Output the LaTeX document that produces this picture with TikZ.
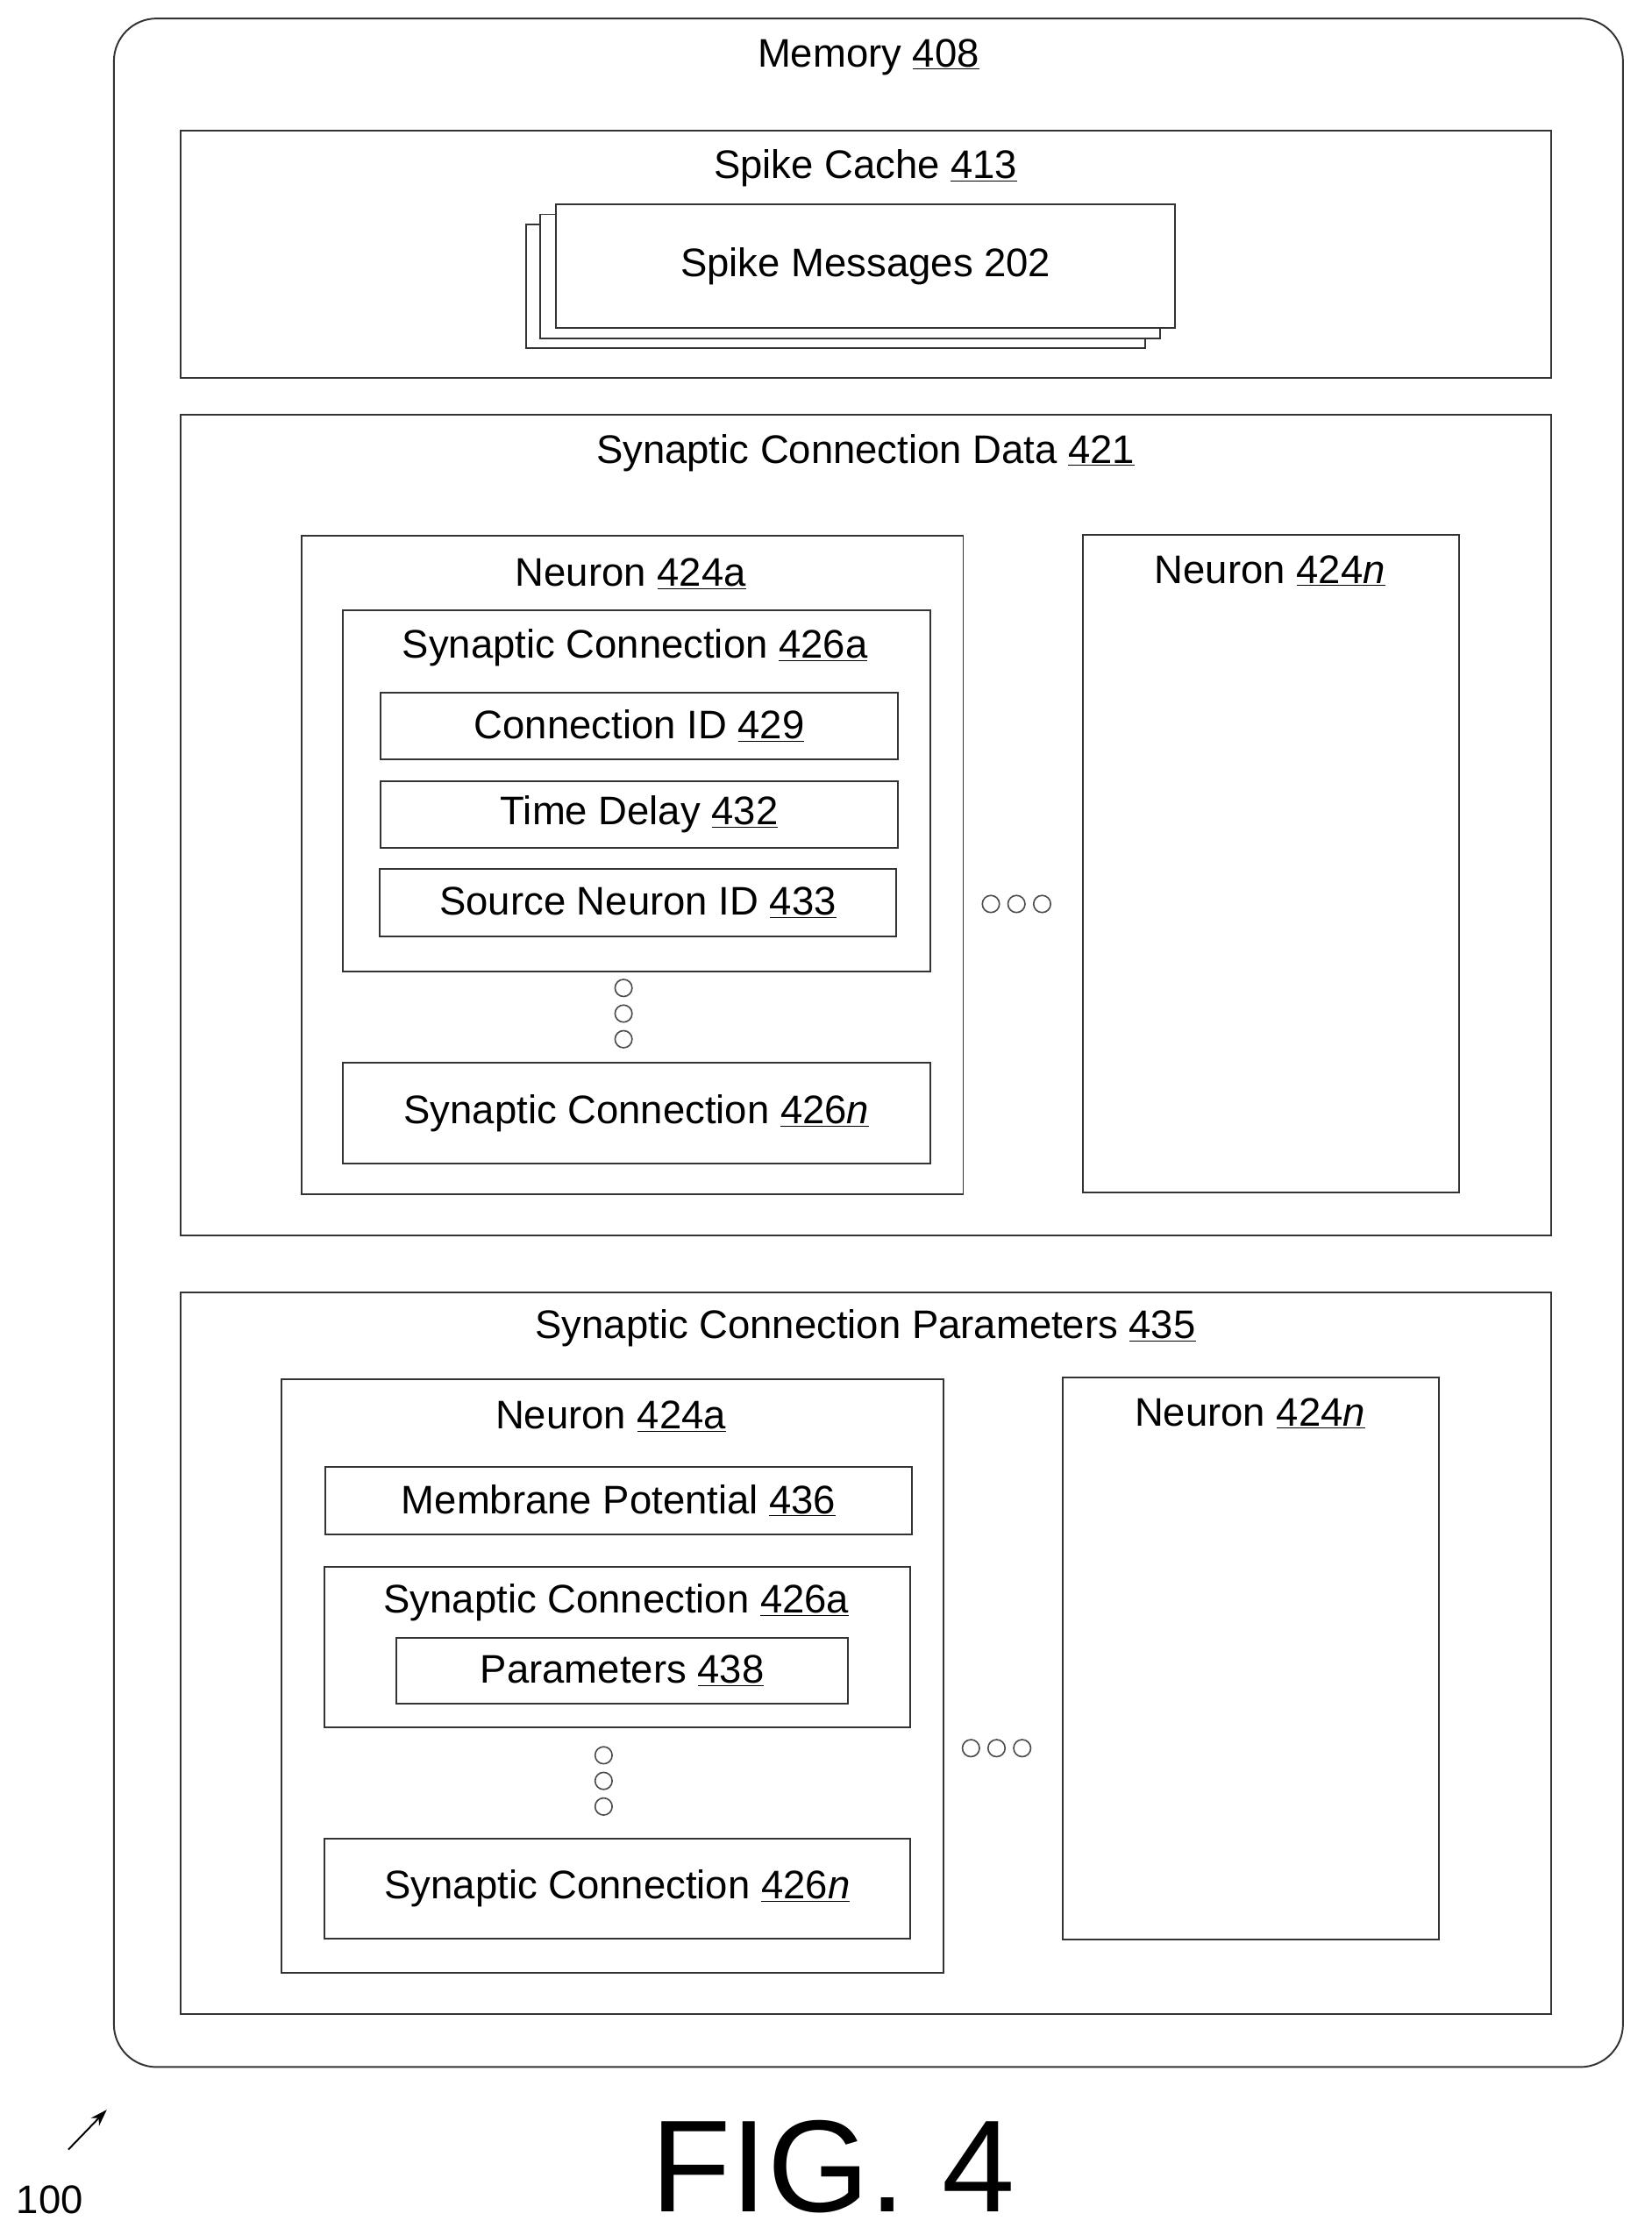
\documentclass[tikz,border=0pt]{standalone}
\usepackage{fontspec}
\setmainfont{Liberation Sans}
\usetikzlibrary{positioning,arrows.meta}
\tikzset{
  box/.style={draw=black!80, line width=1.2pt, rectangle, anchor=north west, inner sep=0pt, fill=white},
  txt/.style={font=\fontsize{28}{32}\selectfont, inner sep=0pt},
  dot/.style={draw=black!70, line width=1pt, circle, minimum size=12pt, inner sep=0pt},
}
\newcommand{\ul}[1]{\underline{#1}}
\begin{document}
\begin{tikzpicture}[x=1pt,y=-1pt]
  \useasboundingbox (0,0) rectangle (1160,1570);
  % memory
  \draw[black!80, line width=1.2pt, rounded corners=30pt] (80,13) rectangle (1140,1452);
  \node[txt] (mem) at (610,40) {Memory \ul{408}};
  % spike cache
  \node[box, minimum width=963pt, minimum height=174pt] (cache) at (126,91) {};
  \node[txt] (cachet) at (608,118) {Spike Cache \ul{413}};
  \node[box, minimum width=435pt, minimum height=87pt] (msg3) at (369,157) {};
  \node[box, minimum width=435pt, minimum height=87pt] (msg2) at (379,150) {};
  \node[box, minimum width=435pt, minimum height=87pt] (msg1) at (390,143) {};
  \node[txt] at (msg1.center) {Spike Messages 202};
  % synaptic connection data
  \node[box, minimum width=963pt, minimum height=576pt] (scd) at (126,291) {};
  \node[txt] (scdt) at (608,318) {Synaptic Connection Data \ul{421}};
  \node[box, minimum width=465pt, minimum height=462pt] (na) at (211,376) {};
  \node[txt] at (443,403) {Neuron \ul{424a}};
  \node[box, minimum width=413pt, minimum height=254pt] (sca) at (240,428) {};
  \node[txt] at (446,455) {Synaptic Connection \ul{426a}};
  \node[box, minimum width=363pt, minimum height=47pt] (cid) at (267,486) {};
  \node[txt] at (cid.center) {Connection ID \ul{429}};
  \node[box, minimum width=363pt, minimum height=47pt] (td) at (267,548) {};
  \node[txt] at (td.center) {Time Delay \ul{432}};
  \node[box, minimum width=363pt, minimum height=47pt] (sid) at (266,610) {};
  \node[txt] at (sid.center) {Source Neuron ID \ul{433}};
  \foreach \y in {694,712,730} \node[dot] at (438,\y) {};
  \node[box, minimum width=413pt, minimum height=71pt] (scn) at (240,746) {};
  \node[txt] at (scn.center) {Synaptic Connection \ul{426\textit{n}}};
  \foreach \x in {696,714,732} \node[dot] at (\x,635) {};
  \node[box, minimum width=264pt, minimum height=462pt] (nn) at (760,375) {};
  \node[txt] at (892,401) {Neuron \ul{424\textit{n}}};
  % synaptic connection parameters
  \node[box, minimum width=963pt, minimum height=507pt] (scp) at (126,907) {};
  \node[txt] (scpt) at (608,933) {Synaptic Connection Parameters \ul{435}};
  \node[box, minimum width=465pt, minimum height=417pt] (pa) at (197,968) {};
  \node[txt] at (429,995) {Neuron \ul{424a}};
  \node[box, minimum width=412pt, minimum height=47pt] (mp) at (228,1030) {};
  \node[txt] at (mp.center) {Membrane Potential \ul{436}};
  \node[box, minimum width=412pt, minimum height=113pt] (psa) at (227,1100) {};
  \node[txt] at (433,1126) {Synaptic Connection \ul{426a}};
  \node[box, minimum width=317pt, minimum height=46pt] (par) at (278,1150) {};
  \node[txt] at (par.center) {Parameters \ul{438}};
  \foreach \y in {1233,1251,1269} \node[dot] at (424,\y) {};
  \node[box, minimum width=412pt, minimum height=70pt] (psn) at (227,1291) {};
  \node[txt] at (psn.center) {Synaptic Connection \ul{426\textit{n}}};
  \foreach \x in {682,700,718} \node[dot] at (\x,1228) {};
  \node[box, minimum width=264pt, minimum height=395pt] (pn) at (746,967) {};
  \node[txt] at (878,993) {Neuron \ul{424\textit{n}}};
  % figure label
  \node[font=\fontsize{92}{96}\selectfont, inner sep=0pt] (fig) at (585,1522) {FIG. 4};
  \node[txt] (ref) at (35,1545) {100};
  \coordinate (tip) at (75,1482);
  \coordinate (tail) at (48,1510);
  \draw[-{Stealth[length=12pt,width=8pt]}, line width=1.2pt] (tail) -- (tip);
\end{tikzpicture}
\end{document}
